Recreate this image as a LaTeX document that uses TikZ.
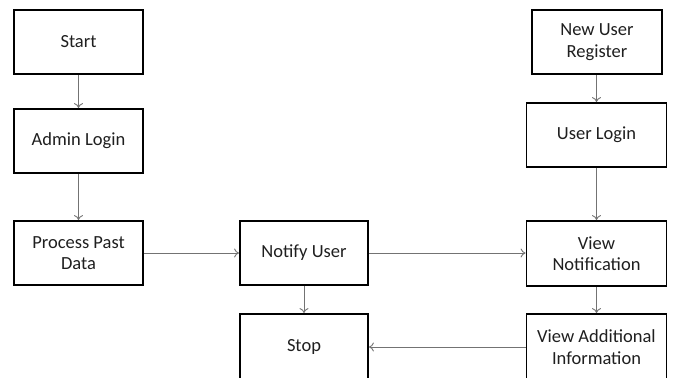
\documentclass[tikz,border=0pt]{standalone}
\usepackage{fontspec}
\setmainfont{Carlito}
\usetikzlibrary{arrows.meta}
\begin{document}
\begin{tikzpicture}[x=1pt,y=-1pt,
  box/.style={draw=black, line width=1.8pt, fill=white, inner sep=0pt,
    align=center, text=black!88, font=\fontsize{18.5}{21.5}\selectfont},
  flow/.style={draw=black!55, line width=0.9pt,
    -{To[length=5pt,width=9pt]}}]
\useasboundingbox (0,0) rectangle (673,378);
\clip (0,0) rectangle (673,378);
\fill[white] (0,0) rectangle (673,378);

% admin side
\node[box, minimum width=129pt, minimum height=64pt] (start) at (78.5,42) {Start};
\node[box, minimum width=129pt, minimum height=64pt] (admin) at (78.5,141) {Admin Login};
\node[box, minimum width=129pt, minimum height=64pt] (past) at (78.5,253) {Process Past\\Data};

% middle column
\node[box, minimum width=128pt, minimum height=64pt] (notify) at (304,253) {Notify User};
\node[box, minimum width=128pt, minimum height=66pt] (stop) at (304,347) {Stop};

% user side
\node[box, minimum width=130pt, minimum height=64pt] (reg) at (597,42) {New User\\Register};
\node[box, minimum width=140pt, minimum height=64pt] (ulogin) at (596.5,135) {User Login};
\node[box, minimum width=140pt, minimum height=65pt] (view) at (596.5,253.5) {View\\Notification};
\node[box, minimum width=140pt, minimum height=66pt] (extra) at (596.5,347) {View Additional\\Information};

% connectors
\draw[flow] (start) -- (admin);
\draw[flow] (admin) -- (past);
\draw[flow] (past) -- (notify);
\draw[flow] (notify) -- (notify.east -| view.west);
\draw[flow] (notify) -- (stop);
\draw[flow] (reg.south -| ulogin.north) -- (ulogin);
\draw[flow] (ulogin) -- (view);
\draw[flow] (view) -- (extra);
\draw[flow] (extra) -- (stop);
\end{tikzpicture}
\end{document}
